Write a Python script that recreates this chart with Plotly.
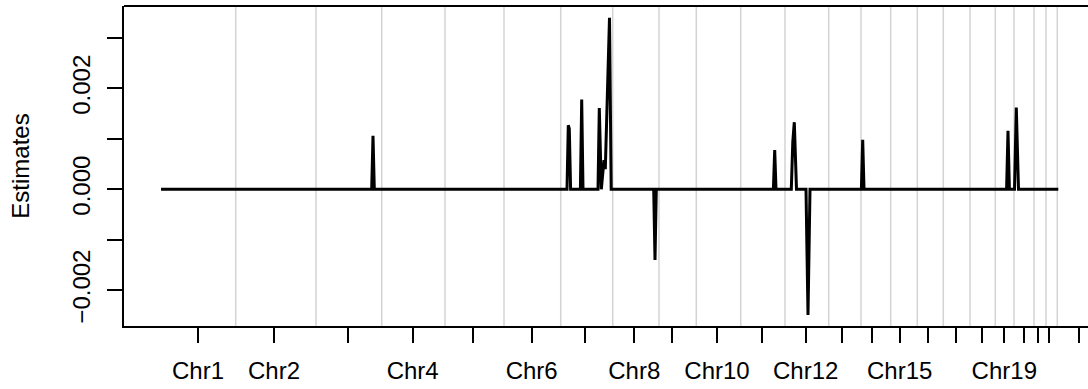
import plotly.graph_objects as go

# ---- data (marker-index units along the genome) ----
chrom_names = ["Chr1", "Chr2", "Chr3", "Chr4", "Chr5", "Chr6", "Chr7", "Chr8", "Chr9", "Chr10",
               "Chr11", "Chr12", "Chr13", "Chr14", "Chr15", "Chr16", "Chr17", "Chr18", "Chr19",
               "Chr20", "Chr21", "Chr22", "Chr23"]
chrom_centers = [370, 1130, 1870, 2517, 3123, 3707, 4240, 4733, 5113, 5560, 6010, 6447, 6807,
                 7113, 7387, 7667, 7947, 8207, 8433, 8627, 8770, 8883, 9183]
chrom_boundaries = [747, 1550, 2207, 2840, 3430, 3997, 4517, 4980, 5353, 5797, 6240, 6677, 7000,
                    7297, 7563, 7823, 8090, 8343, 8530, 8730, 8850, 8963]
shown_labels = ["Chr1", "Chr2", "Chr4", "Chr6", "Chr8", "Chr10", "Chr12", "Chr15", "Chr19"]

est_pos = [0, 2107, 2120, 2133, 4060, 4073, 4083, 4096, 4194, 4207, 4220, 4370, 4383, 4403,
           4430, 4443, 4485, 4502, 4927, 4940, 4953, 6124, 6137, 6150, 6303, 6318, 6333, 6355,
           6450, 6470, 6490, 7004, 7017, 7030, 8456, 8470, 8484, 8535, 8553, 8575, 8973]
est_val = [0, 0, 1.06e-3, 0, 0, 1.27e-3, 1.20e-3, 0, 0, 1.78e-3, 0, 0, 1.61e-3, 0,
           0.58e-3, 0.40e-3, 3.40e-3, 0, 0, -1.40e-3, 0, 0, 0.78e-3, 0, 0, 0.94e-3, 1.33e-3, 0,
           0, -2.49e-3, 0, 0, 0.98e-3, 0, 0, 1.16e-3, 0, 0, 1.62e-3, 0, 0]

y_ticks = [-0.002, -0.001, 0.0, 0.001, 0.002, 0.003]
y_labels = ["\u22120.002", "", "0.000", "", "0.002", ""]

FONT = "Liberation Sans, Arial, Helvetica, sans-serif"

fig = go.Figure()
fig.add_trace(go.Scatter(x=est_pos, y=est_val, mode="lines",
                         line=dict(color="black", width=3), hoverinfo="skip",
                         showlegend=False))

shapes = []
for b in chrom_boundaries:
    shapes.append(dict(type="line", xref="x", yref="paper", x0=b, x1=b, y0=0, y1=1,
                       line=dict(color="#d3d3d3", width=1.5), layer="below"))
shapes.append(dict(type="line", xref="paper", yref="paper", x0=0, x1=1, y0=1, y1=1,
                   line=dict(color="black", width=1.8)))
fig.update_layout(shapes=shapes)

fig.update_layout(
    width=1088, height=389,
    margin=dict(l=124, r=0, t=6, b=63),
    paper_bgcolor="white", plot_bgcolor="white",
    font=dict(family=FONT, size=24, color="black"),
    xaxis=dict(range=[-370, 9270], tickmode="array", tickvals=chrom_centers,
               ticktext=[n if n in shown_labels else "" for n in chrom_names],
               ticks="outside", ticklen=15, tickwidth=1.5, tickcolor="black",
               showline=True, linecolor="black", linewidth=1.8,
               showgrid=False, zeroline=False, ticklabelstandoff=7),
    yaxis=dict(range=[-2.710e-3, 3.633e-3], tickmode="array", tickvals=y_ticks,
               ticktext=y_labels, tickangle=-90,
               ticks="outside", ticklen=15, tickwidth=1.5, tickcolor="black",
               showline=True, linecolor="black", linewidth=1.8,
               showgrid=False, zeroline=False, ticklabelstandoff=8,
               title=dict(text="Estimates", standoff=31, font=dict(size=24))),
)

fig.write_html("out.html")
